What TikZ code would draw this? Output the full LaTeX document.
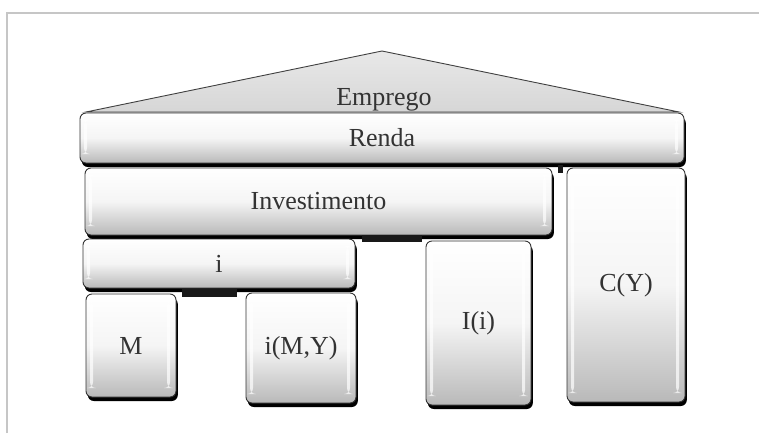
\documentclass[tikz,border=0pt]{standalone}
\usepackage{fontspec}
\setmainfont{Liberation Serif}
\newcommand{\lbl}{\fontsize{26}{30}\selectfont}
\begin{document}
\begin{tikzpicture}[x=1pt,y=-1pt,
  blk/.style={rounded corners=6pt, draw=black!80, line width=0.9pt,
    top color=white, bottom color=gray!55, middle color=gray!8,
    font=\lbl, text=black!80, inner sep=0pt,
    preaction={fill=black, transform canvas={shift={(1.8pt,-4pt)}}},
    path picture={
      \fill[white,opacity=0.7] ([xshift=4pt,yshift=-7pt]path picture bounding box.north west) rectangle ([xshift=7pt,yshift=9pt]path picture bounding box.south west);
      \fill[white,opacity=0.7] ([xshift=-9pt,yshift=-7pt]path picture bounding box.north east) rectangle ([xshift=-6pt,yshift=9pt]path picture bounding box.south east);
    }},
  bar/.style={fill=black!90, draw=none},
  frame/.style={draw=gray!45, line width=1.2pt},
  txt/.style={font=\lbl, text=black!80, inner sep=0pt}
]
\useasboundingbox (0,0) rectangle (759,433);
\fill[white] (0,0) rectangle (759,433);
\draw[frame] (7,433) -- (7,13) -- (759,13);

% roof
\coordinate (rl) at (86,112);
\coordinate (ra) at (382,51);
\coordinate (rr) at (679,112);
\path[top color=gray!18, bottom color=gray!32, draw=black!75, line width=0.9pt] (rl) -- (ra) -- (rr) -- cycle;
\node[txt] (emprego) at (384,100) {Emprego};

% blocks
\node[blk, minimum width=604pt, minimum height=50pt] (renda) at (382,138) {Renda};
\node[blk, minimum width=467pt, minimum height=67pt] (invest) at (318.5,201.5) {Investimento};
\node[blk, minimum width=118pt, minimum height=234pt] (cy) at (626,285) {C(Y)};
\node[blk, minimum width=272pt, minimum height=49pt] (ibox) at (219,263.5) {i};
\node[blk, minimum width=105pt, minimum height=164pt] (ii) at (478.5,323) {I(i)};
\node[blk, minimum width=90pt, minimum height=103pt] (m) at (131,345.5) {M};
\node[blk, minimum width=110pt, minimum height=110pt] (imy) at (301,348) {i(M,Y)};

% dark joints
\fill[bar] (182,289) rectangle (237,297);
\fill[bar] (362,235) rectangle (422,242);
\fill[bar] (558,165) rectangle (563,173);
\end{tikzpicture}
\end{document}
